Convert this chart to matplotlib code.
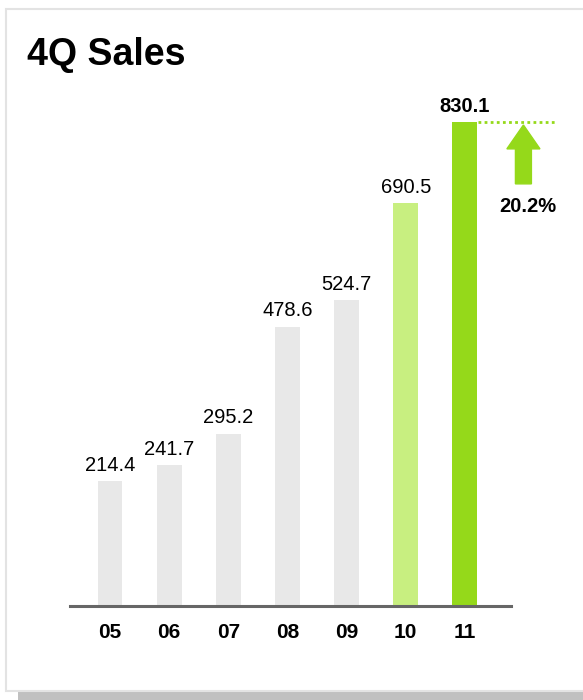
import matplotlib.pyplot as plt
from matplotlib.patches import Rectangle, FancyArrow

plt.rcParams['font.family'] = ['Liberation Sans', 'DejaVu Sans']

years = ['05', '06', '07', '08', '09', '10', '11']
sales = [214.4, 241.7, 295.2, 478.6, 524.7, 690.5, 830.1]
growth_label = '20.2%'

GREY = '#e8e8e8'
LIGHT_GREEN = '#c8ef80'
GREEN = '#95d91a'
colors = [GREY] * 5 + [LIGHT_GREEN, GREEN]

W, H = 583, 700
fig = plt.figure(figsize=(W / 100, H / 100), dpi=100)

# panel with border and drop shadow
fig.patches.append(Rectangle((18 / W, 0), 1, 9 / H, transform=fig.transFigure,
                             facecolor='#c0c0c0', edgecolor='none', zorder=-3))
fig.patches.append(Rectangle((6 / W, 9 / H), 1, (H - 18) / H, transform=fig.transFigure,
                             facecolor='white', edgecolor='#e3e3e3', linewidth=1.5, zorder=-2))

fig.text(27 / W, 1 - 55 / H, '4Q Sales', fontsize=27, fontweight='bold',
         ha='left', va='center')

ax_left, ax_right, ax_base, ax_top = 70, 511, 606, 90
ax = fig.add_axes([ax_left / W, 1 - ax_base / H, (ax_right - ax_left) / W,
                   (ax_base - ax_top) / H])
ax.set_facecolor('none')

x = range(len(years))
ax.bar(x, sales, width=0.42, color=colors, zorder=2)
ax.set_xlim(-0.676, 6.78)
ax.set_ylim(0, 885)

for i, v in enumerate(sales):
    bold = i == len(sales) - 1
    ax.annotate(f'{v:.1f}', (i, v), xytext=(0, 11.5), textcoords='offset points',
                ha='center', va='center', fontsize=14.5,
                fontweight='bold' if bold else 'normal')

# growth marker next to the latest bar
last = sales[-1]
ax.plot([6.22, 7.56], [last, last], color=GREEN, linestyle=(0, (1, 1.2)),
        linewidth=2, clip_on=False)
ax.add_patch(FancyArrow(6.99, 724, 0, 101, width=0.27, head_width=0.56,
                        head_length=41, length_includes_head=True,
                        color=GREEN, clip_on=False))
ax.text(7.06, 686, growth_label, ha='center', va='center', fontsize=14.5,
        fontweight='bold')

for s in ['top', 'right', 'left']:
    ax.spines[s].set_visible(False)
ax.spines['bottom'].set_color('#666666')
ax.spines['bottom'].set_linewidth(2.2)
ax.spines['bottom'].set_zorder(3)
ax.set_yticks([])
ax.set_xticks(list(x))
ax.set_xticklabels(years, fontsize=15, fontweight='bold')
ax.tick_params(axis='x', length=0, pad=12)

fig.savefig('out.png', dpi=100)
